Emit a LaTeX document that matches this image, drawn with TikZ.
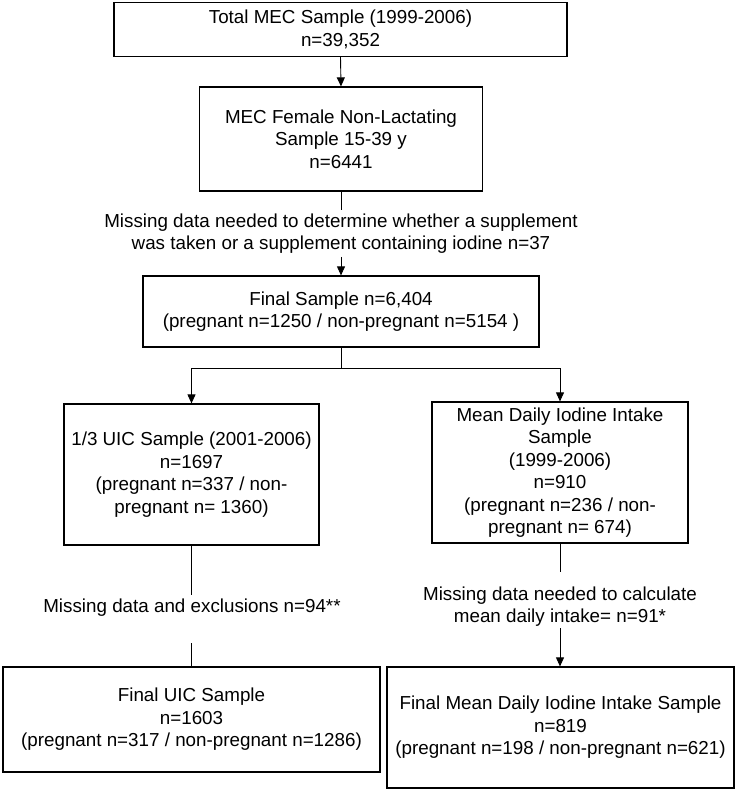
\documentclass[tikz,border=0pt]{standalone}
\usepackage{fontspec}
\setmainfont{Liberation Sans}
\usetikzlibrary{arrows.meta}
\begin{document}
\begin{tikzpicture}[x=1pt,y=-1pt,
  box/.style={draw, line width=1.2pt, align=center, inner sep=0pt,
    font=\fontsize{18.8}{22.5}\selectfont},
  lbl/.style={align=center, inner sep=0pt, font=\fontsize{18.8}{22.5}\selectfont},
  conn/.style={line width=0.9pt},
  arr/.style={line width=0.9pt, -{Triangle[length=9pt,width=8pt]}}]
\useasboundingbox (0,0) rectangle (738,791);
\node[box, minimum width=453pt, minimum height=54pt] (b1) at (340.5,29.5) {Total MEC Sample (1999-2006)\\n=39,352};
\node[box, minimum width=283pt, minimum height=104pt] (b2) at (341,139) {MEC Female Non-Lactating\\Sample 15-39 y\\n=6441};
\node[lbl] (l1) at (341,233.5) {Missing data needed to determine whether a supplement\\was taken or a supplement containing iodine n=37};
\node[box, minimum width=396pt, minimum height=71pt] (b3) at (341,311.5) {Final Sample n=6,404\\(pregnant n=1250 / non-pregnant n=5154 )};
\node[box, minimum width=255pt, minimum height=141pt] (b4) at (191.5,474.5) {1/3 UIC Sample (2001-2006)\\n=1697\\(pregnant n=337 / non-\\pregnant n= 1360)};
\node[box, minimum width=256pt, minimum height=141pt] (b5) at (560,472.5) {Mean Daily Iodine Intake\\Sample\\(1999-2006)\\n=910\\(pregnant n=236 / non-\\pregnant n= 674)};
\node[lbl] (l2) at (192,608) {Missing data and exclusions n=94**};
\node[lbl] (l3) at (560,606.5) {Missing data needed to calculate\\mean daily intake= n=91*};
\node[box, minimum width=377pt, minimum height=105pt] (b6) at (191.5,719.5) {Final UIC Sample\\n=1603\\(pregnant n=317 / non-pregnant n=1286)};
\node[box, minimum width=347pt, minimum height=121pt] (b7) at (560.5,727.5) {Final Mean Daily Iodine Intake Sample\\n=819\\(pregnant n=198 / non-pregnant n=621)};
% connectors
\draw[arr] (b1.south) -- (b2.north);
\coordinate (l1top) at (b2.south |- 0,210);
\coordinate (l1bot) at (b2.south |- 0,257);
\draw[conn] (b2.south) -- (l1top);
\draw[arr] (l1bot) -- (b3.north);
\coordinate (fork) at (b3.south |- 0,368);
\draw[conn] (b3.south) -- (fork);
\draw[arr] (fork) -- (fork -| b4.north) -- (b4.north);
\draw[arr] (fork) -- (fork -| b5.north) -- (b5.north);
\coordinate (l2top) at (b4.south |- 0,595);
\coordinate (l2bot) at (b4.south |- 0,643);
\draw[conn] (b4.south) -- (l2top);
\draw[conn] (l2bot) -- (l2bot |- b6.north);
\coordinate (l3top) at (b5.south |- 0,572);
\coordinate (l3bot) at (b5.south |- 0,628);
\draw[conn] (b5.south) -- (l3top);
\draw[arr] (l3bot) -- (l3bot |- b7.north);
\end{tikzpicture}
\end{document}
